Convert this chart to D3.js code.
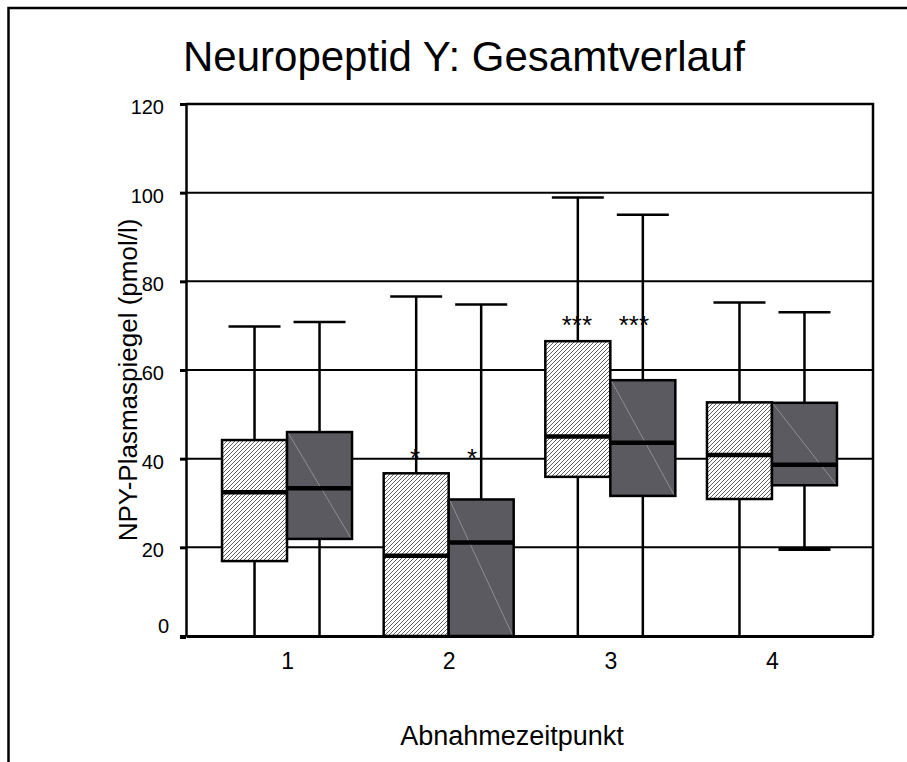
<!DOCTYPE html>
<html>
<head>
<meta charset="utf-8">
<script src="https://cdn.jsdelivr.net/npm/d3@7"></script>
<style>
  html, body { margin: 0; padding: 0; background: #fff; }
  svg { display: block; font-family: "Liberation Sans", Arial, sans-serif; }
</style>
</head>
<body>
<svg id="chart" width="907" height="762"></svg>
<script>
// Sampling times (x categories)
const timepoints = ["1", "2", "3", "4"];
// Y-axis tick values
const yTicks = [0, 20, 40, 60, 80, 100, 120];

// Group A (hatched boxes): whisker low, Q1, median, Q3, whisker high per time point
const groupAMin    = [0, 0, 0, 0];
const groupAQ1     = [16.9, 0, 35.9, 30.9];
const groupAMedian = [32.4, 18.1, 45.0, 40.8];
const groupAQ3     = [44.2, 36.7, 66.5, 52.7];
const groupAMax    = [69.8, 76.6, 98.9, 75.2];

// Group B (dark boxes)
const groupBMin    = [0, 0, 0, 19.5];
const groupBQ1     = [21.9, 0, 31.6, 34.0];
const groupBMedian = [33.3, 21.1, 43.6, 38.6];
const groupBQ3     = [46.0, 30.8, 57.7, 52.6];
const groupBMax    = [70.8, 74.8, 95.0, 73.0];

// Significance marks and the value level of their baseline
const sigA      = ["", "*", "***", ""];
const sigB      = ["", "*", "***", ""];
const sigLevels = [0, 38.2, 68.2, 0];

const svg = d3.select("#chart");
const plot = { left: 186, right: 873, top: 104, bottom: 636 };

const x = d3.scalePoint().domain(timepoints).range([plot.left, plot.right]).padding(0.625);
const y = d3.scaleLinear().domain([0, 120]).range([plot.bottom, plot.top]);

const boxW = 65, capW = 52;

// hatch pattern for group A
const defs = svg.append("defs");
const pat = defs.append("pattern").attr("id", "hatch")
  .attr("patternUnits", "userSpaceOnUse").attr("width", 4).attr("height", 4);
pat.append("rect").attr("width", 4).attr("height", 4).attr("fill", "#fff");
pat.append("path").attr("d", "M-1,1 L1,-1 M0,4 L4,0 M3,5 L5,3")
  .attr("stroke", "#3a3a3a").attr("stroke-width", 0.8);

// outer frame (only top and left edge fall inside the page)
svg.append("path").attr("d", "M8.5,762 L8.5,8 L907,8")
  .attr("fill", "none").attr("stroke", "#000").attr("stroke-width", 2.5);

// title
svg.append("text").attr("x", 183).attr("y", 71)
  .attr("font-size", 42).attr("fill", "#000").text("Neuropeptid Y: Gesamtverlauf");

// horizontal grid lines
svg.append("g").selectAll("line").data(yTicks.filter(d => d > 0 && d < 120)).join("line")
  .attr("x1", plot.left).attr("x2", plot.right)
  .attr("y1", d => y(d)).attr("y2", d => y(d))
  .attr("stroke", "#000").attr("stroke-width", 2);

// plot border: top and right
svg.append("path")
  .attr("d", `M${plot.left},${plot.top} L${plot.right},${plot.top} L${plot.right},${plot.bottom}`)
  .attr("fill", "none").attr("stroke", "#000").attr("stroke-width", 2.5);

// box plots
function drawGroup(mins, q1s, meds, q3s, maxs, side, fill, dark) {
  const g = svg.append("g");
  const cx = i => x(timepoints[i]) + side * boxW / 2;
  const idx = d3.range(timepoints.length);
  // whiskers
  g.selectAll("line.wh").data(idx).join("line").attr("class", "wh")
    .attr("x1", cx).attr("x2", cx)
    .attr("y1", i => y(maxs[i])).attr("y2", i => y(mins[i]))
    .attr("stroke", "#000").attr("stroke-width", 2.5);
  g.selectAll("line.capHi").data(idx).join("line").attr("class", "capHi")
    .attr("x1", i => cx(i) - capW / 2).attr("x2", i => cx(i) + capW / 2)
    .attr("y1", i => y(maxs[i])).attr("y2", i => y(maxs[i]))
    .attr("stroke", "#000").attr("stroke-width", 2.5);
  g.selectAll("line.capLo").data(idx.filter(i => mins[i] > 0)).join("line").attr("class", "capLo")
    .attr("x1", i => cx(i) - capW / 2).attr("x2", i => cx(i) + capW / 2)
    .attr("y1", i => y(mins[i])).attr("y2", i => y(mins[i]))
    .attr("stroke", "#000").attr("stroke-width", 3);
  // boxes
  g.selectAll("rect").data(idx).join("rect")
    .attr("x", i => cx(i) - boxW / 2).attr("width", boxW)
    .attr("y", i => y(q3s[i])).attr("height", i => y(q1s[i]) - y(q3s[i]))
    .attr("fill", fill).attr("stroke", "#000").attr("stroke-width", 2.5);
  if (dark) {
    g.selectAll("line.sheen").data(idx).join("line").attr("class", "sheen")
      .attr("x1", i => cx(i) - boxW / 2 + 1.5).attr("y1", i => y(q3s[i]) + 1.5)
      .attr("x2", i => cx(i) + boxW / 2 - 1.5).attr("y2", i => y(q1s[i]) - 1.5)
      .attr("stroke", "#9a9aa0").attr("stroke-width", 0.8);
  }
  // medians
  g.selectAll("line.med").data(idx).join("line").attr("class", "med")
    .attr("x1", i => cx(i) - boxW / 2).attr("x2", i => cx(i) + boxW / 2)
    .attr("y1", i => y(meds[i])).attr("y2", i => y(meds[i]))
    .attr("stroke", "#000").attr("stroke-width", 4.5);
  return cx;
}
const cxA = drawGroup(groupAMin, groupAQ1, groupAMedian, groupAQ3, groupAMax, -1, "url(#hatch)", false);
const cxB = drawGroup(groupBMin, groupBQ1, groupBMedian, groupBQ3, groupBMax, 1, "#5a5a60", true);

// significance marks
const sigG = svg.append("g").attr("font-size", 26).attr("text-anchor", "middle").attr("fill", "#000");
sigG.selectAll("text.a").data(d3.range(4).filter(i => sigA[i])).join("text").attr("class", "a")
  .attr("x", i => cxA(i) - 1).attr("y", i => y(sigLevels[i])).text(i => sigA[i]);
sigG.selectAll("text.b").data(d3.range(4).filter(i => sigB[i])).join("text").attr("class", "b")
  .attr("x", i => cxB(i) - 9).attr("y", i => y(sigLevels[i])).text(i => sigB[i]);

// y axis
const yAxis = svg.append("g").attr("transform", `translate(${plot.left},0)`)
  .call(d3.axisLeft(y).tickValues(yTicks).tickSize(6).tickPadding(16).tickSizeOuter(0));
yAxis.select(".domain").attr("stroke", "#000").attr("stroke-width", 2.5);
yAxis.selectAll(".tick line").attr("stroke", "#000").attr("stroke-width", 3);
yAxis.selectAll(".tick text").attr("font-size", 20).attr("font-family", "Liberation Sans, Arial, sans-serif")
  .attr("fill", "#000").attr("dy", "0.47em");
yAxis.selectAll(".tick").filter(d => d === 0).select("text").attr("dx", 5).attr("dy", "-0.18em");

// x axis
const xAxis = svg.append("g").attr("transform", `translate(0,${plot.bottom})`)
  .call(d3.axisBottom(x).tickSize(0).tickPadding(17));
xAxis.select(".domain").attr("stroke", "#000").attr("stroke-width", 3);
xAxis.selectAll(".tick text").attr("font-size", 23).attr("font-family", "Liberation Sans, Arial, sans-serif")
  .attr("fill", "#000");
// small corner marker at the origin
svg.append("line").attr("x1", plot.left - 6).attr("x2", plot.left)
  .attr("y1", plot.bottom + 1.5).attr("y2", plot.bottom + 1.5)
  .attr("stroke", "#000").attr("stroke-width", 3);

// axis titles
svg.append("text").attr("transform", "translate(137,380) rotate(-90)")
  .attr("text-anchor", "middle").attr("font-size", 26).attr("fill", "#000")
  .text("NPY-Plasmaspiegel (pmol/l)");
svg.append("text").attr("x", 512).attr("y", 745)
  .attr("text-anchor", "middle").attr("font-size", 27).attr("fill", "#000")
  .text("Abnahmezeitpunkt");
</script>
</body>
</html>
